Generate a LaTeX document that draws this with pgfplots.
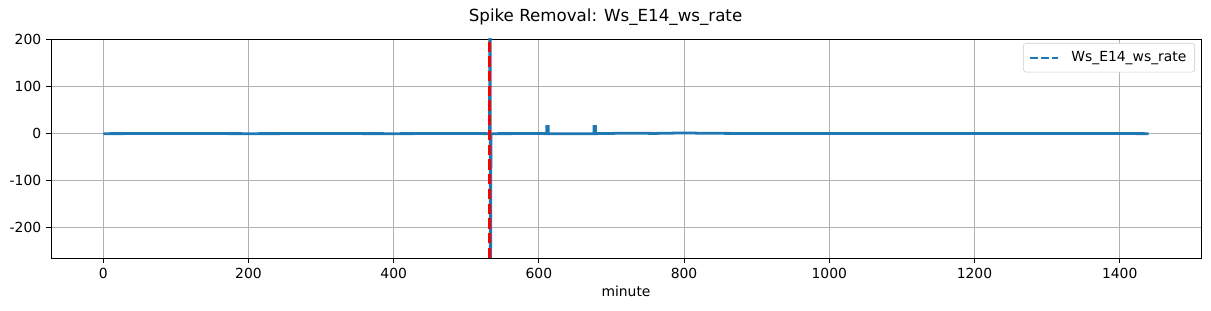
\documentclass[border=0pt]{standalone}
\usepackage{pgfplots}
\pgfplotsset{compat=1.18}
\usepackage{fontspec}
\setmainfont{DejaVu Sans}
\definecolor{mplblue}{HTML}{1F77B4}
\definecolor{gridgray}{HTML}{B0B0B0}
\begin{document}
\begin{tikzpicture}
\useasboundingbox (0,0) rectangle (871.92pt,223.92pt);
\begin{axis}[
  at={(36.72pt,38.16pt)}, anchor=south west,
  scale only axis, width=828pt, height=157.68pt,
  xmin=-72, xmax=1512, ymin=-264, ymax=201,
  xtick={0,200,400,600,800,1000,1200,1400},
  ytick={-200,-100,0,100,200},
  yticklabels={-200,-100,0,100,200},
  xticklabels={0,200,400,600,800,1000,1200,1400},
  tick align=outside, tick pos=left,
  major tick length=3.5pt,
  every tick/.style={black, line width=0.6pt},
  axis line style={black, line width=0.6pt},
  grid=major,
  major grid style={gridgray, line width=0.6pt},
  tick label style={font=\fontsize{10}{12}\selectfont},
  xticklabel style={yshift=-0.5pt},
  xlabel={minute},
  xlabel style={font=\fontsize{10}{12}\selectfont, yshift=2pt},
  legend style={at={(0.9948,0.9817)}, anchor=north east,
    draw=black!20, rounded corners=2pt, font=\fontsize{10}{12}\selectfont,
    inner xsep=4pt, inner ysep=4pt,
    /tikz/every odd column/.style={column sep=7pt}},
  legend cell align=left,
  clip=true,
]
\addplot[mplblue, line width=2pt, line join=miter,
  legend image code/.code={\draw[mplblue, line width=1.5pt, dash pattern=on 5.55pt off 2.4pt] (0pt,0pt) -- (20pt,0pt);}]
coordinates {
(0,0) (100,0.3) (200,0) (300,0.2) (400,0) (500,0.3) (531,0) (532,0)
(533,500) (533,-500) (534,0) (600,0.2) (611,0) (611,15) (613,15) (613,0)
(676,0) (676,15) (678,15) (678,0) (720,1) (760,0.5) (800,1.5) (830,0.8) (900,0.3)
(1000,0.2) (1100,0.3) (1200,0.2) (1300,0.3) (1400,0.2) (1440,0)
};
\addlegendentry{Ws\_E14\_ws\_rate}
\addplot[red, line width=2pt, dash pattern=on 7.4pt off 3.2pt, forget plot]
coordinates {(532.4,-264) (532.4,201)};
\end{axis}
\node at (436pt,211.7pt) {\fontsize{12}{14}\selectfont Spike Removal: Ws\_E14\_ws\_rate};
\end{tikzpicture}
\end{document}
